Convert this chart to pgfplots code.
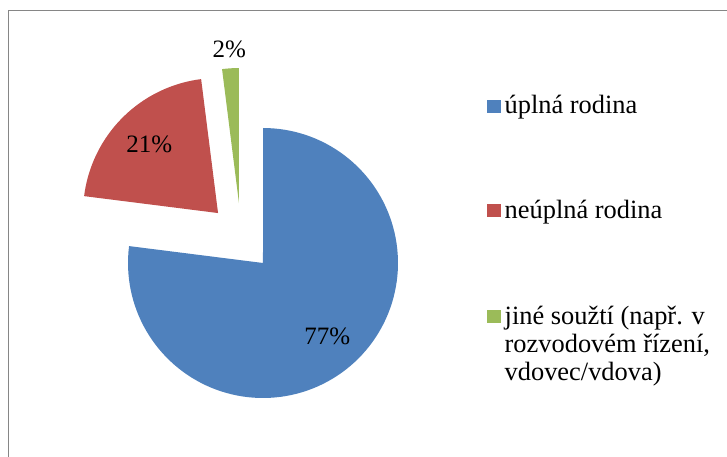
\documentclass[border=0pt]{standalone}
\usepackage{pgfplots}
\pgfplotsset{compat=1.18}
\usepackage{fontspec}
\setmainfont{Liberation Serif}

\definecolor{sblue}{RGB}{79,129,189}
\definecolor{sred}{RGB}{192,80,77}
\definecolor{sgreen}{RGB}{155,187,89}
\definecolor{framegray}{RGB}{134,134,134}

% shares in percent
\def\pA{77}
\def\pB{21}
\def\pC{2}

\begin{document}
\fontsize{13.2}{14.2}\selectfont
\begin{tikzpicture}
\path[use as bounding box] (0,0) rectangle (363.5pt,228pt);
% slice angles, clockwise from 12 o'clock
\pgfmathsetmacro\aA{90-3.6*\pA}
\pgfmathsetmacro\aB{\aA-3.6*\pB}
\pgfmathsetmacro\aC{\aB-3.6*\pC}
\pgfmathsetmacro\mA{(90+\aA)/2}
\pgfmathsetmacro\mB{(\aA+\aB)/2}
\pgfmathsetmacro\mC{(\aB+\aC)/2}
\begin{axis}[
  at={(0,0)}, anchor=south west,
  scale only axis, width=363.5pt, height=228pt,
  xmin=-1.9481, xmax=3.4370, ymin=-1.4296, ymax=1.9481,
  hide axis,
  samples=120,
  legend style={
    at={(axis description cs:0.670,0.800)}, anchor=north west,
    draw=none, fill=none, inner sep=0pt,
    row sep=37pt,
    cells={anchor=base west, inner xsep=2.5pt},
  },
  legend image code/.code={\fill[#1] (0pt,0.5pt) rectangle (6.6pt,7pt);},
]
\addplot[fill=sblue, draw=none, domain=\aA:90]
  ({cos(x)},{sin(x)}) -- (axis cs:0,0) -- cycle;
\addlegendentry{úplná rodina}
\addplot[fill=sred, draw=none, domain=\aB:\aA]
  ({-0.333+cos(x)},{0.370+sin(x)}) -- (axis cs:-0.333,0.370) -- cycle;
\addlegendentry{neúplná rodina}
\addplot[fill=sgreen, draw=none, domain=\aC:\aB]
  ({-0.178+cos(x)},{0.444+sin(x)}) -- (axis cs:-0.178,0.444) -- cycle;
\addlegendentry{\begin{tabular}[t]{@{}l@{}}jiné soužtí (např. v\\rozvodovém řízení,\\vdovec/vdova)\end{tabular}}

\draw[framegray, line width=0.65pt] (axis cs:-1.887,1.870) rectangle (axis cs:4,-2);

\node[font=\fontsize{12.5}{14}\selectfont] at (axis cs:{0.72*cos(\mA)},{0.72*sin(\mA)}) {77\%};
\node[font=\fontsize{12.5}{14}\selectfont] at (axis cs:{-0.333+0.72*cos(\mB)},{0.370+0.72*sin(\mB)}) {21\%};
\node[font=\fontsize{12.5}{14}\selectfont] at (axis cs:{-0.178+1.14*cos(\mC)},{0.444+1.14*sin(\mC)}) {2\%};
\end{axis}
\end{tikzpicture}
\end{document}
